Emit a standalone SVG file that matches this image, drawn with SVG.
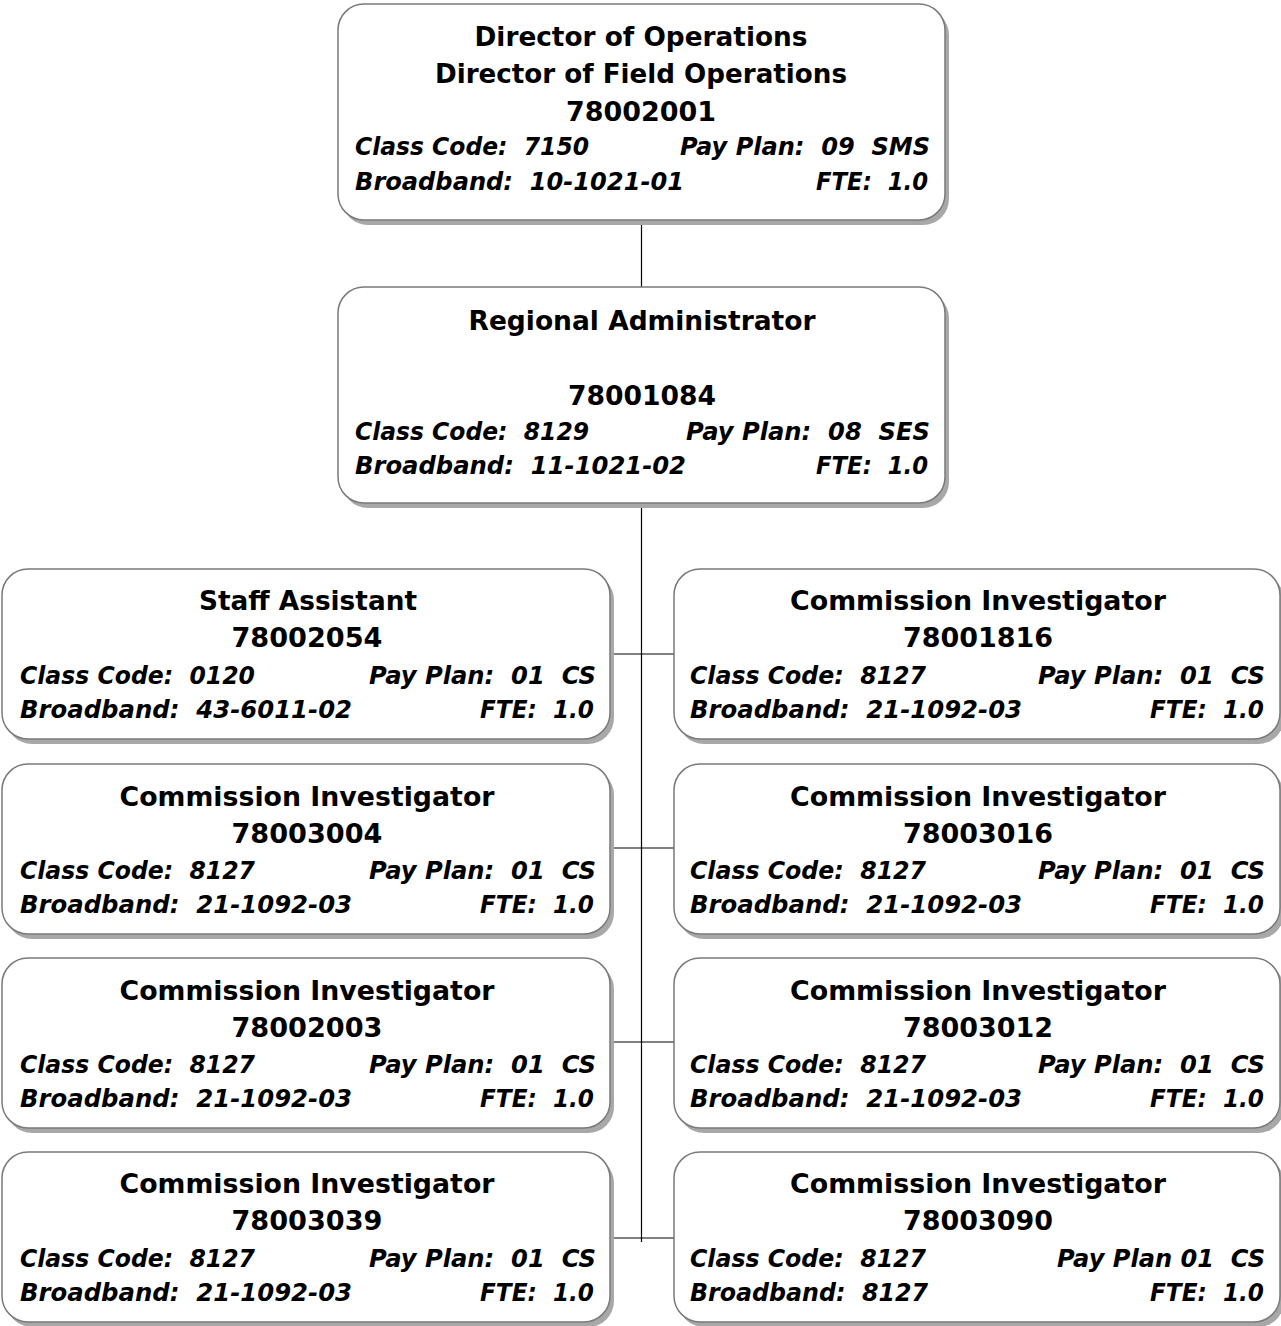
<svg xmlns="http://www.w3.org/2000/svg" width="1281" height="1326" viewBox="0 0 1281 1326">
<style>
.sh{fill:#a8a8a8}
.bx{fill:#ffffff;stroke:#7a7a7a;stroke-width:1.5}
.t{font-family:"DejaVu Sans",Verdana,sans-serif;font-weight:bold;font-size:27px;fill:#000;text-anchor:middle}
.i{font-family:"DejaVu Sans",Verdana,sans-serif;font-weight:bold;font-style:italic;font-size:24px;fill:#000;white-space:pre}
.r{text-anchor:end}
.ln{stroke:#000;stroke-width:1.2;fill:none}
</style>
<rect width="1281" height="1326" fill="#fff"/>
<g id="connectors">
<path class="ln" d="M641.5 220V287M641.5 503V1242M610 654H674M610 848H674M610 1042H674M610 1238H674"/>
</g>
<g id="n1">
<rect class="sh" x="342" y="9" width="607" height="216" rx="26"/>
<rect class="bx" x="338" y="4" width="607" height="216" rx="26"/>
<text class="t" x="641" y="46" textLength="333" lengthAdjust="spacingAndGlyphs">Director of Operations</text>
<text class="t" x="641" y="83" textLength="412" lengthAdjust="spacingAndGlyphs">Director of Field Operations</text>
<text class="t" x="641" y="121" textLength="150" lengthAdjust="spacingAndGlyphs">78002001</text>
<text class="i" x="355" y="155" textLength="234" lengthAdjust="spacingAndGlyphs">Class Code:  7150</text>
<text class="i r" x="930" y="155" textLength="250" lengthAdjust="spacingAndGlyphs">Pay Plan:  09  SMS</text>
<text class="i" x="355" y="190" textLength="329" lengthAdjust="spacingAndGlyphs">Broadband:  10-1021-01</text>
<text class="i r" x="928" y="190" textLength="112" lengthAdjust="spacingAndGlyphs">FTE:  1.0</text>
</g>
<g id="n2">
<rect class="sh" x="342" y="292" width="607" height="216" rx="26"/>
<rect class="bx" x="338" y="287" width="607" height="216" rx="26"/>
<text class="t" x="642" y="330" textLength="347" lengthAdjust="spacingAndGlyphs">Regional Administrator</text>
<text class="t" x="642" y="405" textLength="148" lengthAdjust="spacingAndGlyphs">78001084</text>
<text class="i" x="355" y="440" textLength="234" lengthAdjust="spacingAndGlyphs">Class Code:  8129</text>
<text class="i r" x="930" y="440" textLength="244" lengthAdjust="spacingAndGlyphs">Pay Plan:  08  SES</text>
<text class="i" x="355" y="474" textLength="331" lengthAdjust="spacingAndGlyphs">Broadband:  11-1021-02</text>
<text class="i r" x="928" y="474" textLength="112" lengthAdjust="spacingAndGlyphs">FTE:  1.0</text>
</g>
<g id="n3">
<rect class="sh" x="6" y="574" width="608" height="170" rx="26"/>
<rect class="bx" x="2" y="569" width="608" height="170" rx="26"/>
<text class="t" x="308" y="610" textLength="218" lengthAdjust="spacingAndGlyphs">Staff Assistant</text>
<text class="t" x="307" y="647" textLength="151" lengthAdjust="spacingAndGlyphs">78002054</text>
<text class="i" x="20" y="684" textLength="235" lengthAdjust="spacingAndGlyphs">Class Code:  0120</text>
<text class="i r" x="596" y="684" textLength="227" lengthAdjust="spacingAndGlyphs">Pay Plan:  01  CS</text>
<text class="i" x="20" y="718" textLength="332" lengthAdjust="spacingAndGlyphs">Broadband:  43-6011-02</text>
<text class="i r" x="594" y="718" textLength="114" lengthAdjust="spacingAndGlyphs">FTE:  1.0</text>
</g>
<g id="n4">
<rect class="sh" x="6" y="769" width="608" height="170" rx="26"/>
<rect class="bx" x="2" y="764" width="608" height="170" rx="26"/>
<text class="t" x="307" y="806" textLength="375" lengthAdjust="spacingAndGlyphs">Commission Investigator</text>
<text class="t" x="307" y="843" textLength="151" lengthAdjust="spacingAndGlyphs">78003004</text>
<text class="i" x="20" y="879" textLength="235" lengthAdjust="spacingAndGlyphs">Class Code:  8127</text>
<text class="i r" x="596" y="879" textLength="227" lengthAdjust="spacingAndGlyphs">Pay Plan:  01  CS</text>
<text class="i" x="20" y="913" textLength="332" lengthAdjust="spacingAndGlyphs">Broadband:  21-1092-03</text>
<text class="i r" x="594" y="913" textLength="114" lengthAdjust="spacingAndGlyphs">FTE:  1.0</text>
</g>
<g id="n5">
<rect class="sh" x="6" y="963" width="608" height="170" rx="26"/>
<rect class="bx" x="2" y="958" width="608" height="170" rx="26"/>
<text class="t" x="307" y="1000" textLength="375" lengthAdjust="spacingAndGlyphs">Commission Investigator</text>
<text class="t" x="307" y="1037" textLength="151" lengthAdjust="spacingAndGlyphs">78002003</text>
<text class="i" x="20" y="1073" textLength="235" lengthAdjust="spacingAndGlyphs">Class Code:  8127</text>
<text class="i r" x="596" y="1073" textLength="227" lengthAdjust="spacingAndGlyphs">Pay Plan:  01  CS</text>
<text class="i" x="20" y="1107" textLength="332" lengthAdjust="spacingAndGlyphs">Broadband:  21-1092-03</text>
<text class="i r" x="594" y="1107" textLength="114" lengthAdjust="spacingAndGlyphs">FTE:  1.0</text>
</g>
<g id="n6">
<rect class="sh" x="6" y="1157" width="608" height="170" rx="26"/>
<rect class="bx" x="2" y="1152" width="608" height="170" rx="26"/>
<text class="t" x="307" y="1193" textLength="375" lengthAdjust="spacingAndGlyphs">Commission Investigator</text>
<text class="t" x="307" y="1230" textLength="151" lengthAdjust="spacingAndGlyphs">78003039</text>
<text class="i" x="20" y="1267" textLength="235" lengthAdjust="spacingAndGlyphs">Class Code:  8127</text>
<text class="i r" x="596" y="1267" textLength="227" lengthAdjust="spacingAndGlyphs">Pay Plan:  01  CS</text>
<text class="i" x="20" y="1301" textLength="332" lengthAdjust="spacingAndGlyphs">Broadband:  21-1092-03</text>
<text class="i r" x="594" y="1301" textLength="114" lengthAdjust="spacingAndGlyphs">FTE:  1.0</text>
</g>
<g id="n7">
<rect class="sh" x="678" y="574" width="606" height="170" rx="26"/>
<rect class="bx" x="674" y="569" width="606" height="170" rx="26"/>
<text class="t" x="978" y="610" textLength="376" lengthAdjust="spacingAndGlyphs">Commission Investigator</text>
<text class="t" x="978" y="647" textLength="150" lengthAdjust="spacingAndGlyphs">78001816</text>
<text class="i" x="690" y="684" textLength="236" lengthAdjust="spacingAndGlyphs">Class Code:  8127</text>
<text class="i r" x="1265" y="684" textLength="227" lengthAdjust="spacingAndGlyphs">Pay Plan:  01  CS</text>
<text class="i" x="690" y="718" textLength="332" lengthAdjust="spacingAndGlyphs">Broadband:  21-1092-03</text>
<text class="i r" x="1264" y="718" textLength="114" lengthAdjust="spacingAndGlyphs">FTE:  1.0</text>
</g>
<g id="n8">
<rect class="sh" x="678" y="769" width="606" height="170" rx="26"/>
<rect class="bx" x="674" y="764" width="606" height="170" rx="26"/>
<text class="t" x="978" y="806" textLength="376" lengthAdjust="spacingAndGlyphs">Commission Investigator</text>
<text class="t" x="978" y="843" textLength="150" lengthAdjust="spacingAndGlyphs">78003016</text>
<text class="i" x="690" y="879" textLength="236" lengthAdjust="spacingAndGlyphs">Class Code:  8127</text>
<text class="i r" x="1265" y="879" textLength="227" lengthAdjust="spacingAndGlyphs">Pay Plan:  01  CS</text>
<text class="i" x="690" y="913" textLength="332" lengthAdjust="spacingAndGlyphs">Broadband:  21-1092-03</text>
<text class="i r" x="1264" y="913" textLength="114" lengthAdjust="spacingAndGlyphs">FTE:  1.0</text>
</g>
<g id="n9">
<rect class="sh" x="678" y="963" width="606" height="170" rx="26"/>
<rect class="bx" x="674" y="958" width="606" height="170" rx="26"/>
<text class="t" x="978" y="1000" textLength="376" lengthAdjust="spacingAndGlyphs">Commission Investigator</text>
<text class="t" x="978" y="1037" textLength="150" lengthAdjust="spacingAndGlyphs">78003012</text>
<text class="i" x="690" y="1073" textLength="236" lengthAdjust="spacingAndGlyphs">Class Code:  8127</text>
<text class="i r" x="1265" y="1073" textLength="227" lengthAdjust="spacingAndGlyphs">Pay Plan:  01  CS</text>
<text class="i" x="690" y="1107" textLength="332" lengthAdjust="spacingAndGlyphs">Broadband:  21-1092-03</text>
<text class="i r" x="1264" y="1107" textLength="114" lengthAdjust="spacingAndGlyphs">FTE:  1.0</text>
</g>
<g id="n10">
<rect class="sh" x="678" y="1157" width="606" height="170" rx="26"/>
<rect class="bx" x="674" y="1152" width="606" height="170" rx="26"/>
<text class="t" x="978" y="1193" textLength="376" lengthAdjust="spacingAndGlyphs">Commission Investigator</text>
<text class="t" x="978" y="1230" textLength="150" lengthAdjust="spacingAndGlyphs">78003090</text>
<text class="i" x="690" y="1267" textLength="236" lengthAdjust="spacingAndGlyphs">Class Code:  8127</text>
<text class="i r" x="1265" y="1267" textLength="208" lengthAdjust="spacingAndGlyphs">Pay Plan 01  CS</text>
<text class="i" x="690" y="1301" textLength="238" lengthAdjust="spacingAndGlyphs">Broadband:  8127</text>
<text class="i r" x="1264" y="1301" textLength="114" lengthAdjust="spacingAndGlyphs">FTE:  1.0</text>
</g>
</svg>
